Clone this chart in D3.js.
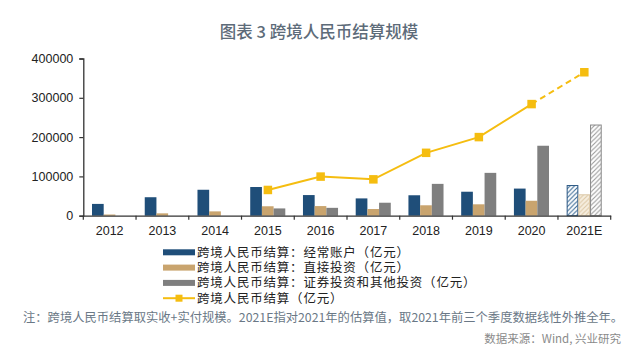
<!DOCTYPE html>
<html><head><meta charset="utf-8">
<script src="https://cdn.jsdelivr.net/npm/d3@7"></script>
<style>
html,body{margin:0;padding:0;background:#fff;}
svg{display:block;}
</style></head>
<body>
<script>
const years = ['2012','2013','2014','2015','2016','2017','2018','2019','2020','2021E'];
const currentAcct = [30000, 47000, 66000, 73000, 52500, 44000, 52000, 61000, 69000, 78000];
const directInv   = [3000, 6000, 11000, 24000, 24500, 17000, 26500, 29000, 38000, 54500];
const securities  = [null, null, null, 18500, 20000, 33000, 81000, 109000, 178000, 232000];
const totalSettle = [null, null, null, 65500, 99500, 92500, 160000, 200000, 284000, 365000];
const yTicks = [0, 100000, 200000, 300000, 400000];
const seriesNames = ['跨境人民币结算：经常账户（亿元）','跨境人民币结算：直接投资（亿元）','跨境人民币结算：证券投资和其他投资（亿元）','跨境人民币结算（亿元）'];
const titleText = '图表 3 跨境人民币结算规模';
const noteText = '注：跨境人民币结算取实收+实付规模。2021E指对2021年的估算值，取2021年前三个季度数据线性外推全年。';
const sourceText = '数据来源：Wind, 兴业研究';

const W = 640, H = 354;
const colors = ['#1f4e79', '#c9a46e', '#7f7f7f'];
const hatch = [
  {fill:'#ffffff', line:'#3a6a96', stroke:'#2a5783'},
  {fill:'#f6eedf', line:'#ddc8a6', stroke:'#dcc8a8'},
  {fill:'#ffffff', line:'#9a9a9a', stroke:'#8a8a8a'}
];
const yellow = '#f5bd10';
const font = '"Liberation Sans", Arial, "Noto Sans CJK SC", sans-serif';
const cjk = '"Noto Sans CJK SC", sans-serif';

const svg = d3.select('body').append('svg').attr('width', W).attr('height', H);
const defs = svg.append('defs');
hatch.forEach((h, i) => {
  const p = defs.append('pattern').attr('id', 'hatch' + i)
    .attr('patternUnits', 'userSpaceOnUse').attr('width', 4.5).attr('height', 4.5);
  p.append('rect').attr('width', 4.5).attr('height', 4.5).attr('fill', h.fill);
  p.append('path').attr('d', 'M-1,1 l2,-2 M0,4.5 l4.5,-4.5 M3.5,5.5 l2,-2')
    .attr('stroke', h.line).attr('stroke-width', 1.1);
});

// title
svg.append('text').attr('x', 319).attr('y', 38).attr('text-anchor', 'middle')
  .attr('font-family', cjk).attr('font-size', 16.5).attr('font-weight', 500)
  .attr('fill', '#5d6b79').text(titleText);

const x = d3.scaleBand().domain(years).range([83.3, 610.7]).padding(0);
const bw = x.bandwidth();
const x1 = d3.scaleBand().domain([0,1,2]).range([bw*0.165, bw*0.83]).padding(0);
const y = d3.scaleLinear().domain([0, 400000]).range([215.7, 58.5]);

// bars
const seriesVals = [currentAcct, directInv, securities];
seriesVals.forEach((vals, si) => {
  svg.append('g').selectAll('rect').data(years.map((yr, i) => ({yr, v: vals[i], i})).filter(d => d.v != null))
    .join('rect')
    .attr('x', d => x(d.yr) + x1(si) + (d.yr === '2021E' ? 0.5 : 0))
    .attr('y', d => y(d.v) + (d.yr === '2021E' ? 0.5 : 0))
    .attr('width', d => x1.bandwidth() - (d.yr === '2021E' ? 1 : 0))
    .attr('height', d => y(0) - y(d.v) - (d.yr === '2021E' ? 0.5 : 0))
    .attr('fill', d => d.yr === '2021E' ? `url(#hatch${si})` : colors[si])
    .attr('stroke', d => d.yr === '2021E' ? hatch[si].stroke : 'none')
    .attr('stroke-width', 1);
});

// y axis
const yAxis = d3.axisLeft(y).tickValues(yTicks).tickFormat(d3.format('d')).tickSize(4).tickPadding(6);
const gy = svg.append('g').attr('transform', 'translate(83.3,0)').call(yAxis);
gy.select('.domain').attr('stroke', '#333').attr('stroke-width', 1.3);
gy.selectAll('.tick line').attr('stroke', '#333').attr('stroke-width', 1.2);
gy.selectAll('text').attr('font-family', font).attr('font-size', 12.5).attr('fill', '#222');

// x axis
const xAxis = d3.axisBottom(x).tickSize(0).tickPadding(10);
const gx = svg.append('g').attr('transform', `translate(0,${y(0)})`).call(xAxis);
gx.select('.domain').attr('stroke', '#333').attr('stroke-width', 1.3);
gx.selectAll('text').attr('font-family', font).attr('font-size', 12.5).attr('fill', '#222');
const bounds = years.map(d => x(d)).concat([x(years[years.length-1]) + bw]);
gx.selectAll('line.bt').data(bounds).join('line').attr('class', 'bt')
  .attr('x1', d => d).attr('x2', d => d).attr('y1', 0).attr('y2', 4)
  .attr('stroke', '#333').attr('stroke-width', 1.2);

// line
const pts = years.map((yr, i) => ({yr, v: totalSettle[i]})).filter(d => d.v != null);
const line = d3.line().x(d => x(d.yr) + bw/2).y(d => y(d.v));
svg.append('path').datum(pts.slice(0, pts.length - 1)).attr('d', line)
  .attr('fill', 'none').attr('stroke', yellow).attr('stroke-width', 2);
svg.append('path').datum(pts.slice(pts.length - 2)).attr('d', line)
  .attr('fill', 'none').attr('stroke', yellow).attr('stroke-width', 2).attr('stroke-dasharray', '6,4');
const ms = 8.5;
svg.append('g').selectAll('rect').data(pts).join('rect')
  .attr('x', d => x(d.yr) + bw/2 - ms/2).attr('y', d => y(d.v) - ms/2)
  .attr('width', ms).attr('height', ms).attr('fill', yellow);

// legend
const lg = svg.append('g');
const rows = [252.3, 267.6, 282.9, 298.2];
seriesNames.forEach((name, i) => {
  if (i < 3) {
    lg.append('rect').attr('x', 163).attr('y', rows[i] - 3).attr('width', 32).attr('height', 6).attr('fill', colors[i]);
  } else {
    lg.append('line').attr('x1', 163).attr('x2', 195).attr('y1', rows[i]).attr('y2', rows[i])
      .attr('stroke', yellow).attr('stroke-width', 2);
    lg.append('rect').attr('x', 179 - 3.5).attr('y', rows[i] - 3.5).attr('width', 7).attr('height', 7).attr('fill', yellow);
  }
  lg.append('text').attr('x', 197).attr('y', rows[i]).attr('dy', '0.36em')
    .attr('font-family', cjk).attr('font-size', 12.5).attr('letter-spacing', 0.8)
    .attr('fill', '#222').text(name);
});

// note & source
svg.append('text').attr('x', 23).attr('y', 318).attr('dy', '0.36em')
  .attr('font-family', cjk).attr('font-size', 12.3).attr('fill', '#6a7886').text(noteText);
svg.append('text').attr('x', 621).attr('y', 339).attr('dy', '0.36em').attr('text-anchor', 'end')
  .attr('font-family', cjk).attr('font-size', 11.5).attr('fill', '#8a8a8a').text(sourceText);
</script>
</body></html>
